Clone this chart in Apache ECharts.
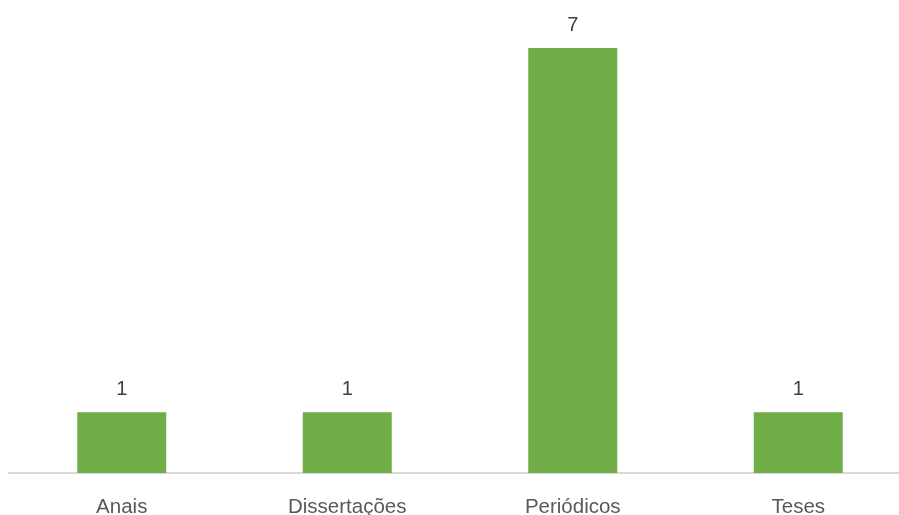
<!DOCTYPE html>
<html><head><meta charset="utf-8">
<script src="https://cdn.jsdelivr.net/npm/echarts@6/dist/echarts.min.js"></script>
<style>html,body{margin:0;padding:0;background:#fff;overflow:hidden;width:899px;height:515px}#c{width:911px;height:515px}</style>
</head><body><div id="c"></div>
<script>
const categories = ["Anais", "Dissertações", "Periódicos", "Teses"];
const values = [1, 1, 7, 1];
const chart = echarts.init(document.getElementById('c'));
chart.setOption({
  animation: false,
  grid: { left: 9, right: 0, top: 48, bottom: 42, containLabel: false, outerBoundsMode: 'none' },
  xAxis: {
    type: 'category', data: categories,
    axisLine: { lineStyle: { color: '#d9d9d9', width: 2 } },
    axisTick: { show: false },
    axisLabel: { color: '#595959', fontSize: 20.5, fontFamily: 'Liberation Sans', margin: 24 }
  },
  yAxis: { type: 'value', min: 0, max: 7, show: false, splitLine: { show: false } },
  series: [{
    type: 'bar', data: values, barWidth: 89,
    itemStyle: { color: '#70AD47' },
    label: { show: true, position: 'top', distance: 13, color: '#404040', fontSize: 20, fontFamily: 'Liberation Sans' }
  }]
});
</script></body></html>
